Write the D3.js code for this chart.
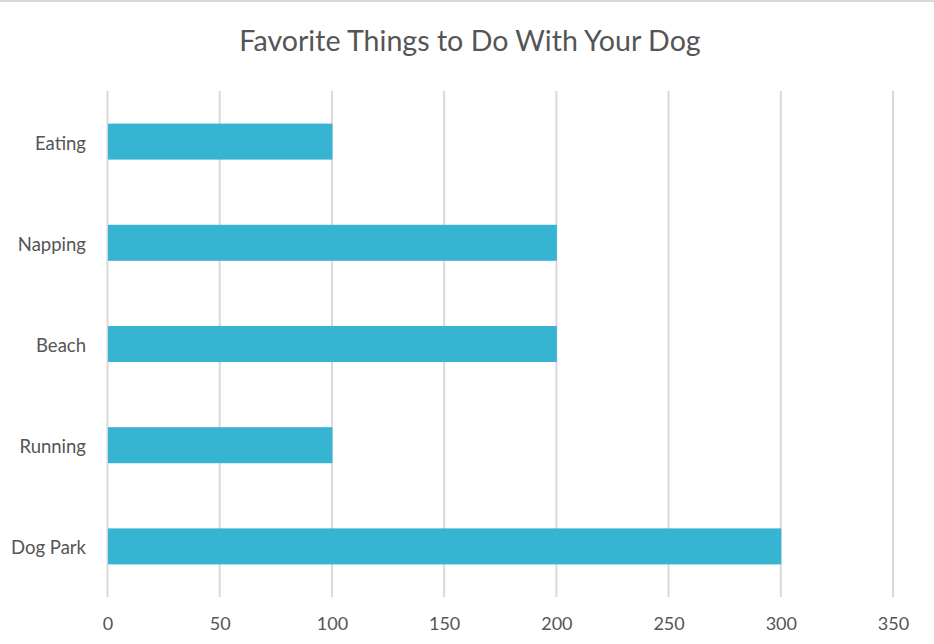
<!DOCTYPE html>
<html><head><meta charset="utf-8">
<script src="https://cdn.jsdelivr.net/npm/d3@7"></script>
<style>body{margin:0;background:#fff}svg{display:block}</style>
</head><body>
<script>
const categories = ["Eating","Napping","Beach","Running","Dog Park"];
const values = [100,200,200,100,300];
const tickValues = [0,50,100,150,200,250,300,350];
const title = "Favorite Things to Do With Your Dog";

const W = 934, H = 644;
const svg = d3.select("body").append("svg").attr("width",W).attr("height",H);
const font = "Lato, 'Open Sans', sans-serif";
const textColor = "#555555";

svg.append("line").attr("x1",0).attr("x2",W).attr("y1",1).attr("y2",1)
  .attr("stroke","#d9d9d9").attr("stroke-width",2);

const x = d3.scaleLinear().domain([0,350]).range([107.5,893]);
const y = d3.scaleBand().domain(categories).range([91,597]).paddingInner(0.644).paddingOuter(0.322);

// gridlines
svg.append("g").selectAll("line").data(tickValues).join("line")
  .attr("x1",d=>x(d)).attr("x2",d=>x(d)).attr("y1",91).attr("y2",597)
  .attr("stroke","#d9d9d9").attr("stroke-width",2);

// bars
svg.append("g").selectAll("rect").data(categories).join("rect")
  .attr("x",x(0)+0.5).attr("y",c=>y(c))
  .attr("width",(c,i)=>x(values[i])-x(0))
  .attr("height",y.bandwidth())
  .attr("fill","#38B4D3");

// x axis labels
const xAxis = d3.axisBottom(x).tickValues(tickValues).tickSize(0).tickPadding(0);
const gx = svg.append("g").attr("transform","translate(0,617)").call(xAxis);
gx.select(".domain").remove();
gx.selectAll("text").attr("font-family",font).attr("font-size",18).attr("fill",textColor).attr("dy","0.71em");

// y axis labels
const yAxis = d3.axisLeft(y).tickSize(0).tickPadding(0);
const gy = svg.append("g").attr("transform","translate(86,2)").call(yAxis);
gy.select(".domain").remove();
gy.selectAll("text").attr("font-family",font).attr("font-size",18.5).attr("fill",textColor);

svg.append("text").attr("x",470).attr("y",51).attr("text-anchor","middle")
  .attr("font-family",font).attr("font-size",28.6).attr("fill",textColor).text(title);
</script>
</body></html>
